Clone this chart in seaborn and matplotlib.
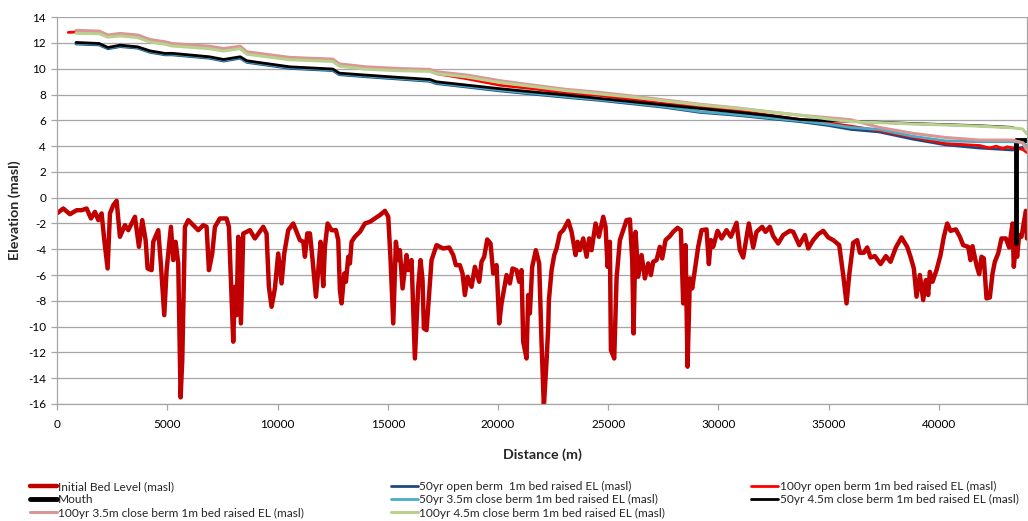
import matplotlib
matplotlib.use('Agg')
import matplotlib.pyplot as plt
import seaborn as sns

sns.set_theme(style='white')
plt.rcParams['font.family'] = ['Lato', 'DejaVu Sans']
plt.rcParams['axes.unicode_minus'] = False

# bed level along the channel (m, masl)
bed_x = [0, 274, 576, 879, 1106, 1332, 1529, 1710, 1862, 2013, 2134, 2285, 2391, 2542,
         2693, 2844, 3071, 3222, 3525, 3706, 3857, 4009, 4099, 4281, 4356, 4583, 4704,
         4855, 4961, 5158, 5264, 5369, 5490, 5596, 5672, 5793, 5944, 6171, 6398, 6624,
         6776, 6881, 7033, 7154, 7380, 7683, 7789, 7879, 7985, 8061, 8136, 8212, 8333,
         8439, 8741, 8968, 9346, 9497, 9603, 9724, 9875, 10026, 10178, 10299, 10480,
         10707, 11009, 11162, 11238, 11344, 11465, 11586, 11737, 11843, 11948, 12069,
         12145, 12266, 12447, 12644, 12750, 12825, 12901, 13022, 13098, 13203, 13279,
         13355, 13506, 13733, 13959, 14186, 14413, 14640, 14867, 15018, 15124, 15245,
         15365, 15471, 15547, 15668, 15849, 15925, 16076, 16227, 16378, 16484, 16575,
         16635, 16756, 16832, 16983, 17210, 17513, 17785, 17966, 18087, 18269, 18389,
         18495, 18616, 18798, 18949, 19146, 19251, 19372, 19509, 19660, 19781, 19932,
         20053, 20159, 20386, 20537, 20658, 20839, 20960, 21066, 21142, 21293, 21368,
         21444, 21550, 21716, 21867, 21973, 22079, 22203, 22278, 22308, 22429, 22550,
         22656, 22807, 22959, 23185, 23337, 23518, 23609, 23715, 23866, 24017, 24138,
         24244, 24425, 24576, 24773, 24879, 24970, 25075, 25121, 25272, 25378, 25529,
         25680, 25831, 25983, 26089, 26149, 26240, 26361, 26512, 26663, 26814, 26935,
         27041, 27192, 27343, 27449, 27600, 27797, 27948, 28145, 28296, 28402, 28508,
         28599, 28704, 28810, 28931, 29082, 29234, 29460, 29566, 29657, 29763, 29959,
         30141, 30367, 30564, 30821, 30972, 31123, 31380, 31577, 31728, 31985, 32137,
         32333, 32484, 32711, 32938, 33240, 33394, 33666, 33923, 34075, 34301, 34528,
         34755, 34982, 35209, 35481, 35662, 35813, 35934, 36116, 36297, 36418, 36600,
         36751, 36902, 37099, 37356, 37598, 37809, 38051, 38308, 38565, 38716, 38867,
         38989, 39140, 39291, 39412, 39518, 39593, 39714, 39896, 40077, 40228, 40380,
         40531, 40773, 40954, 41105, 41332, 41438, 41529, 41710, 41831, 41937, 42043,
         42164, 42315, 42436, 42542, 42693, 42844, 43041, 43192, 43343, 43403, 43494,
         43554, 43645, 43751, 43948, 44000]
bed_y = [-1.2, -0.84, -1.28, -0.97, -0.97, -0.84, -1.61, -1.1, -1.74, -1.22, -3.29,
         -5.49, -1.22, -0.58, -0.24, -3.03, -2.13, -2.52, -1.48, -3.81, -1.74, -3.29,
         -5.49, -5.62, -3.42, -2.52, -5.23, -9.11, -5.62, -2.26, -4.84, -3.42, -5.10,
         -15.49, -12.6, -2.26, -1.74, -2.13, -2.52, -2.13, -2.26, -5.62, -4.33, -2.26,
         -1.61, -1.61, -2.26, -6.39, -11.17, -6.91, -9.11, -3.03, -9.75, -2.78, -2.52,
         -3.16, -2.26, -2.78, -6.91, -8.46, -7.04, -4.33, -6.65, -4.33, -2.52, -2.0,
         -3.29, -3.42, -4.58, -2.77, -2.77, -4.84, -7.68, -5.62, -3.42, -6.86, -3.81,
         -2.0, -2.52, -2.52, -3.29, -7.17, -8.20, -5.88, -6.52, -4.58, -5.10, -3.42,
         -3.03, -2.65, -2.0, -1.87, -1.61, -1.35, -1.02, -1.48, -4.84, -9.75, -3.42,
         -4.84, -4.07, -7.04, -4.45, -5.62, -4.84, -12.47, -6.91, -4.84, -6.39, -10.14,
         -10.27, -8.46, -4.84, -3.68, -3.94, -3.86, -4.45, -5.23, -5.23, -5.88, -7.55,
         -6.13, -6.91, -5.36, -6.52, -4.97, -4.58, -3.24, -3.55, -5.88, -5.23, -9.75,
         -8.20, -6.0, -6.65, -5.49, -5.62, -6.52, -5.62, -11.17, -12.47, -7.55, -8.98,
         -5.36, -4.07, -5.10, -11.17, -16.2, -12.6, -10.0, -7.94, -5.62, -4.45, -3.94,
         -2.77, -2.52, -1.79, -2.65, -4.45, -3.42, -4.07, -3.16, -4.58, -3.16, -4.07,
         -2.0, -3.03, -1.48, -2.26, -5.36, -3.42, -11.82, -12.47, -6.26, -3.29, -2.52,
         -1.74, -1.69, -4.84, -10.53, -2.65, -6.13, -4.45, -6.26, -5.10, -6.0, -4.97,
         -4.84, -3.81, -4.71, -3.29, -2.98, -2.65, -2.34, -2.52, -8.2, -3.68, -13.11,
         -6.26, -7.04, -5.62, -3.81, -2.52, -2.46, -5.15, -3.29, -3.81, -2.57, -3.16,
         -2.52, -3.03, -1.95, -4.07, -4.64, -2.0, -3.86, -2.65, -2.26, -2.65, -2.26,
         -2.98, -3.55, -2.90, -2.57, -2.65, -3.68, -2.90, -3.94, -3.29, -2.83, -2.57,
         -3.08, -3.29, -3.68, -6.0, -8.2, -6.0, -3.50, -3.29, -4.27, -4.27, -3.86,
         -4.64, -4.53, -5.15, -4.53, -4.97, -3.86, -3.08, -3.81, -4.58, -5.49, -7.68,
         -6.0, -7.94, -6.39, -7.55, -5.75, -6.52, -5.62, -4.45, -3.03, -2.0, -2.57,
         -2.46, -3.03, -3.68, -3.81, -4.84, -3.76, -5.23, -5.93, -4.58, -4.71, -7.81,
         -7.74, -5.88, -4.97, -4.33, -3.16, -3.16, -3.86, -2.0, -5.36, -3.68, -4.58,
         -2.90, -3.03, -1.02, -3.16]

# water level profiles (m, masl)
wl_x = [850, 1900, 2300, 2850, 3650, 4200, 4900, 5200, 6900, 7550, 8300, 8600, 10550,
        12500, 12800, 14000, 15500, 16900, 17200, 18600, 20100, 21600, 23100, 24600,
        26100, 27600, 29150, 30900, 32400, 33700, 35000, 36000, 37300, 38800, 40300,
        41850, 43350, 43800, 44000]

open50_y = [11.92, 11.85, 11.55, 11.72, 11.6, 11.28, 11.08, 11.08, 10.82, 10.6, 10.82,
            10.5, 10.03, 9.86, 9.54, 9.38, 9.2, 9.03, 8.85, 8.58, 8.28, 8.03, 7.78, 7.55,
            7.28, 7.0, 6.62, 6.38, 6.12, 5.9, 5.6, 5.3, 5.1, 4.55, 4.1, 3.85, 3.7, 3.9, 3.9]
open100_x = [500] + wl_x[:35] + [41850, 42300, 42600, 42900, 43100, 43350, 43800, 44000]
open100_y = [12.82, 12.85, 12.82, 12.55, 12.65, 12.52, 12.18, 12.0, 11.87, 11.66, 11.48,
             11.66, 11.22, 10.80, 10.66, 10.3, 10.06, 9.93, 9.85, 9.62, 9.22, 8.72, 8.45,
             8.12, 7.93, 7.62, 7.30, 7.05, 6.75, 6.38, 6.07, 5.80, 5.55, 5.2, 4.7, 4.2,
             4.05, 3.85, 4.0, 3.8, 3.95, 3.85, 3.75, 3.5]
close35_50_y = [11.98, 11.91, 11.61, 11.78, 11.66, 11.34, 11.14, 11.14, 10.88, 10.66,
                10.88, 10.56, 10.09, 9.92, 9.6, 9.44, 9.26, 9.09, 8.91, 8.64, 8.34, 8.09,
                7.84, 7.61, 7.34, 7.06, 6.68, 6.44, 6.18, 5.96, 5.7, 5.45, 5.29, 4.77,
                4.41, 4.34, 4.34, 4.3, 4.0]
close45_50_y = [12.04, 11.96, 11.65, 11.83, 11.7, 11.39, 11.19, 11.2, 10.93, 10.72,
                10.93, 10.62, 10.15, 9.98, 9.66, 9.51, 9.33, 9.17, 8.99, 8.73, 8.45, 8.2,
                7.96, 7.70, 7.44, 7.18, 6.92, 6.62, 6.35, 6.07, 5.97, 5.92, 5.85, 5.75,
                5.67, 5.58, 5.45]
close35_100_y = [12.98, 12.92, 12.62, 12.74, 12.62, 12.27, 12.09, 11.96, 11.75, 11.57,
                 11.75, 11.32, 10.88, 10.75, 10.38, 10.15, 10.02, 9.95, 9.77, 9.51, 9.07,
                 8.73, 8.40, 8.17, 7.88, 7.57, 7.25, 6.95, 6.65, 6.40, 6.2, 6.05, 5.45,
                 5.0, 4.67, 4.47, 4.47, 4.25, 3.7]
close45_100_y = [12.75, 12.72, 12.45, 12.55, 12.42, 12.08, 11.9, 11.77, 11.56, 11.38,
                 11.56, 11.13, 10.70, 10.57, 10.2, 9.97, 9.85, 9.8, 9.62, 9.36, 8.93,
                 8.62, 8.30, 8.05, 7.80, 7.50, 7.2, 6.92, 6.63, 6.40, 6.1, 5.9, 5.82,
                 5.72, 5.64, 5.55, 5.42, 5.33, 4.95]

mouth_x = [43500, 43500, 44000]
mouth_y = [-3.5, 4.5, 4.5]

fig = plt.figure(figsize=(10.28, 5.21), dpi=100)
ax = fig.add_axes([0.0557, 0.2246, 0.9433, 0.7424])

series = [
    (bed_x, bed_y, '#C00000', 3.2, 'Initial Bed Level (masl)'),
    (wl_x, open50_y, '#1F497D', 2.0, '50yr open berm  1m bed raised EL (masl)'),
    (open100_x, open100_y, '#FF0000', 2.0, '100yr open berm 1m bed raised EL (masl)'),
    (mouth_x, mouth_y, '#000000', 3.5, 'Mouth'),
    (wl_x, close35_50_y, '#4BACC6', 2.0, '50yr 3.5m close berm 1m bed raised EL (masl)'),
    (wl_x[:len(close45_50_y)], close45_50_y, '#000000', 2.0,
     '50yr 4.5m close berm 1m bed raised EL (masl)'),
    (wl_x, close35_100_y, '#D99694', 2.2, '100yr 3.5m close berm 1m bed raised EL (masl)'),
    (wl_x, close45_100_y, '#B9D08E', 2.2, '100yr 4.5m close berm 1m bed raised EL (masl)'),
]
for xs, ys, c, lw, lab in series:
    sns.lineplot(x=xs, y=ys, ax=ax, color=c, linewidth=lw, label=lab,
                 sort=False, estimator=None)

ax.set_xlim(0, 44000)
ax.set_ylim(-16, 14)
ax.set_xticks(range(0, 44000, 5000))
ax.set_yticks(range(-16, 15, 2))
ax.yaxis.grid(True, color='#A6A6A6', linewidth=0.9)
ax.xaxis.grid(False)
ax.set_axisbelow(True)
for s in ['left', 'bottom', 'right']:
    ax.spines[s].set_color('#A6A6A6')
    ax.spines[s].set_linewidth(0.9)
ax.spines['top'].set_visible(False)
ax.tick_params(axis='both', which='major', direction='out', length=4, width=0.9,
               color='#A6A6A6', labelsize=8.5, pad=4, labelcolor='#000000')
ax.tick_params(axis='x', pad=7)
ax.tick_params(axis='y', left=True)
ax.tick_params(axis='x', bottom=True)

ax.set_xlabel('Distance (m)', fontsize=10.3, fontweight='bold', labelpad=13)
ax.set_ylabel('Elevation (masl)', fontsize=10.3, fontweight='bold', labelpad=5)

handles, labels = ax.get_legend_handles_labels()
ax.get_legend().remove()
order = [0, 3, 6, 1, 4, 7, 2, 5]
leg = fig.legend([handles[i] for i in order], [labels[i] for i in order], ncol=3,
                 loc='upper left', bbox_to_anchor=(0.029, 0.0768, 0.962, 0.0),
                 mode='expand', fontsize=8.6, frameon=False, handlelength=2.27,
                 handletextpad=0.12, labelspacing=0.19, borderaxespad=0, borderpad=0)

fig.savefig('out.png', dpi=100)
